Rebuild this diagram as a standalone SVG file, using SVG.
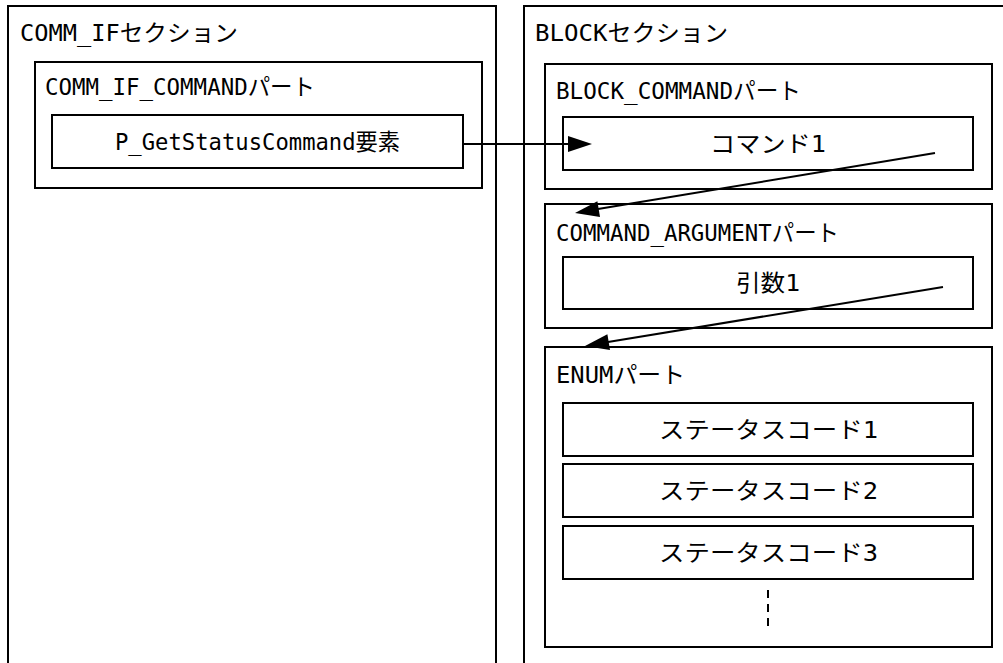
<svg xmlns="http://www.w3.org/2000/svg" width="1003" height="663" viewBox="0 0 1003 663">
<style>
.box{fill:#fff;stroke:#000;stroke-width:2}
.t{font-family:"DejaVu Sans Mono","Noto Sans CJK JP",monospace;font-size:23px;fill:#000}
.ln{stroke:#000;stroke-width:2;fill:none}
.ah{fill:#000;stroke:none}
</style>
<rect x="0" y="0" width="1003" height="663" fill="#fff"/>
<g id="comm_if_section">
<rect class="box" x="8" y="6" width="488" height="700"/>
<text class="t" x="20" y="41" textLength="218" lengthAdjust="spacingAndGlyphs">COMM_IFセクション</text>
</g>
<g id="comm_if_command_part">
<rect class="box" x="35" y="62" width="447" height="126"/>
<text class="t" x="45" y="95" textLength="270" lengthAdjust="spacingAndGlyphs">COMM_IF_COMMANDパート</text>
</g>
<g id="p_getstatus_element">
<rect class="box" x="52" y="115" width="411" height="53"/>
<text class="t" x="115" y="150" textLength="285" lengthAdjust="spacingAndGlyphs">P_GetStatusCommand要素</text>
</g>
<g id="block_section">
<rect class="box" x="524" y="6" width="500" height="700"/>
<text class="t" x="535" y="41" textLength="193" lengthAdjust="spacingAndGlyphs">BLOCKセクション</text>
</g>
<g id="block_command_part">
<rect class="box" x="545" y="64" width="447" height="125"/>
<text class="t" x="556" y="99" textLength="245" lengthAdjust="spacingAndGlyphs">BLOCK_COMMANDパート</text>
</g>
<g id="command1">
<rect class="box" x="563" y="117" width="410" height="53"/>
<text class="t" x="710" y="152" textLength="116" lengthAdjust="spacingAndGlyphs">コマンド1</text>
</g>
<g id="command_argument_part">
<rect class="box" x="545" y="204" width="447" height="124"/>
<text class="t" x="556" y="241" textLength="283" lengthAdjust="spacingAndGlyphs">COMMAND_ARGUMENTパート</text>
</g>
<g id="argument1">
<rect class="box" x="563" y="257" width="410" height="52"/>
<text class="t" x="736" y="291" textLength="64" lengthAdjust="spacingAndGlyphs">引数1</text>
</g>
<g id="enum_part">
<rect class="box" x="545" y="347" width="447" height="300"/>
<text class="t" x="556" y="383" textLength="129" lengthAdjust="spacingAndGlyphs">ENUMパート</text>
</g>
<g id="status1">
<rect class="box" x="563" y="403" width="410" height="53"/>
<text class="t" x="659" y="438" textLength="219" lengthAdjust="spacingAndGlyphs">ステータスコード1</text>
</g>
<g id="status2">
<rect class="box" x="563" y="464" width="410" height="53"/>
<text class="t" x="659" y="499" textLength="219" lengthAdjust="spacingAndGlyphs">ステータスコード2</text>
</g>
<g id="status3">
<rect class="box" x="563" y="526" width="410" height="53"/>
<text class="t" x="659" y="561" textLength="219" lengthAdjust="spacingAndGlyphs">ステータスコード3</text>
</g>
<g id="ellipsis">
<line x1="768" y1="590" x2="768" y2="630" stroke="#000" stroke-width="2" stroke-dasharray="8,6"/>
</g>
<g id="connectors">
<line class="ln" x1="463" y1="144" x2="570" y2="144"/>
<polygon class="ah" points="592,144 568,136 568,152"/>
<line class="ln" x1="935" y1="153" x2="598" y2="209"/>
<polygon class="ah" points="575,213 600,217 597.4,201.2"/>
<line class="ln" x1="943" y1="287" x2="608" y2="342"/>
<polygon class="ah" points="585,346 610,350 607.4,334.2"/>
</g>
</svg>
